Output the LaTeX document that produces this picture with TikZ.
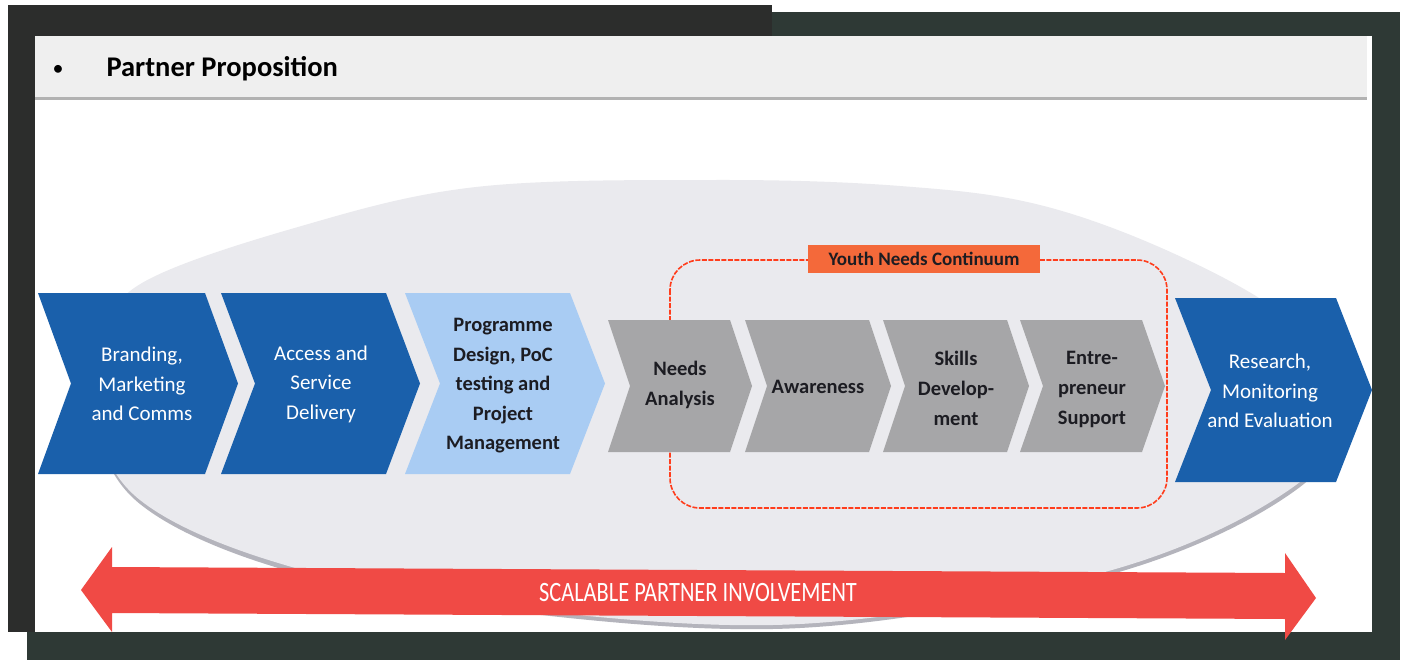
\documentclass[tikz,border=0pt]{standalone}
\usepackage{fontspec}
\setmainfont{Carlito}
\usetikzlibrary{calc}
\definecolor{frame}{HTML}{2C2D2C}
\definecolor{framer}{HTML}{2E3935}
\definecolor{bar}{HTML}{EFEFEF}
\definecolor{disc}{HTML}{EAEAEE}
\definecolor{discedge}{HTML}{B4B4BC}
\definecolor{dblue}{HTML}{1A60AB}
\definecolor{lblue}{HTML}{A9CCF3}
\definecolor{gchev}{HTML}{A6A6A8}
\definecolor{dashred}{HTML}{FF3D1C}
\definecolor{tagfill}{HTML}{F4693A}
\definecolor{arrowred}{HTML}{F04A45}
\definecolor{ink}{HTML}{1C1C22}
% chevron: fill, left x, right x, top y, bottom y, point offset
\newcommand\chevronpath[6]{%
  \fill[#1] (#2,#4) -- (#3,#4) -- (#3+#6,{(#4+#5)/2}) -- (#3,#5) -- (#2,#5)
    -- (#2+#6,{(#4+#5)/2}) -- cycle;}
\begin{document}
\begin{tikzpicture}[x=1pt,y=-1pt,
  whitelabel/.style={text=white,align=center,font=\fontsize{21}{29.5}\selectfont},
  darklabel/.style={text=ink,align=center,font=\bfseries\fontsize{20.5}{29.5}\selectfont},
  greylabel/.style={text=ink,align=center,font=\bfseries\fontsize{20.5}{30}\selectfont}]
\useasboundingbox (0,0) rectangle (1409,664);
\fill[white] (0,0) rectangle (1409,664);
% dark frame around the slide
\fill[frame] (8,5) rectangle (772,36);
\fill[framer] (772,12) rectangle (1400,40);
\fill[framer] (1372,12) rectangle (1400,660);
\fill[frame] (8,5) rectangle (35,632);
\fill[framer] (27,632) rectangle (1400,660);
\fill[white] (35,36) rectangle (1372,632);
% title bar
\fill[bar] (35,36) rectangle (1367,97);
\fill[black!30] (35,97) rectangle (1367,100);
\node[font=\bfseries\fontsize{28.5}{30}\selectfont,anchor=base west] (title) at (103,76) {Partner Proposition};
\node[font=\fontsize{22}{30}\selectfont,anchor=base] (bullet) at (58,75) {•};
% light disc behind the process
\fill[discedge] plot[smooth cycle,tension=0.6] coordinates {(715,183) (900,189) (1040,208) (1177,258) (1290,323) (1345,398) (1300,487) (1112,574) (800,628) (480,608) (275,567) (140,504) (96,423) (105,343) (142,286) (298,230) (476,190)};
\fill[disc] plot[smooth cycle,tension=0.6] coordinates {(715,180) (900,186) (1040,205) (1177,255) (1290,320) (1345,395) (1300,482) (1112,570) (800,624) (480,604) (275,562) (140,500) (96,420) (105,340) (142,283) (298,227) (476,187)};
% blue and light blue stages
\chevronpath{dblue}{38}{205}{293}{474}{33}
\chevronpath{dblue}{221}{386}{293}{474}{34}
\chevronpath{lblue}{405}{570}{293}{474}{35}
\chevronpath{dblue}{1175}{1336}{298}{482}{36}
% youth needs continuum outline, behind its stages
\draw[dashred,line width=1.6pt,dash pattern=on 5pt off 1.5pt,rounded corners=30pt] (670,260) rectangle (1167,508);
% grey continuum stages
\chevronpath{gchev}{608}{730}{320}{452}{22}
\chevronpath{gchev}{745}{869}{320}{452}{22}
\chevronpath{gchev}{883}{1007}{320}{452}{22}
\chevronpath{gchev}{1020}{1142}{320}{452}{23}
\node[whitelabel] (brand) at (142,384) {Branding,\\Marketing\\and Comms};
\node[whitelabel] (access) at (321,384) {Access and\\Service\\Delivery};
\node[darklabel] (design) at (503,386) {Programme\\Design, PoC\\testing and\\Project\\Management};
\node[whitelabel] (research) at (1270,391) {Research,\\Monitoring\\and Evaluation};
\node[greylabel] (needs) at (680,385) {Needs\\Analysis};
\node[greylabel] (aware) at (818,387) {Awareness};
\node[greylabel] (skills) at (956,388) {Skills\\Develop-\\ment};
\node[greylabel] (entre) at (1092,389) {Entre-\\preneur\\Support};
% continuum tag
\node[fill=tagfill,text=ink,font=\bfseries\fontsize{19}{20}\selectfont,minimum width=232pt,minimum height=28pt,inner sep=0pt] (tag) at (924,259) {Youth Needs Continuum};
% scalable involvement double arrow
\fill[arrowred] (81,590) -- (112,547) -- (112,567) -- (1285,573) -- (1285,553) -- (1316,598) -- (1285,640) -- (1285,619) -- (112,613) -- (112,632) -- cycle;
\node[text=white,font=\fontsize{28}{30}\selectfont] (scale) at (698,593) {\scalebox{0.8}[1]{SCALABLE PARTNER INVOLVEMENT}};
\end{tikzpicture}
\end{document}
